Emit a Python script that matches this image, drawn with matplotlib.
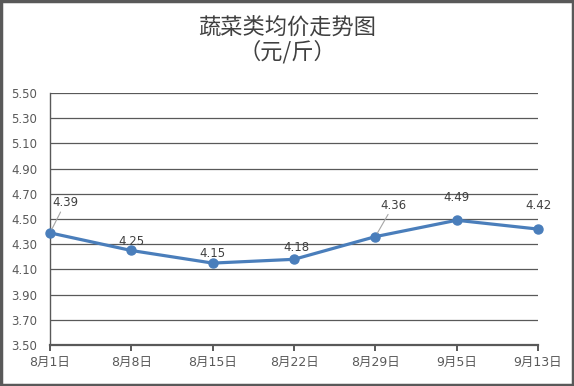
import matplotlib.pyplot as plt
from matplotlib.patches import Rectangle

plt.rcParams['font.family'] = ['DejaVu Sans', 'Noto Sans CJK SC']

# Data
dates = ['8月1日', '8月8日', '8月15日', '8月22日', '8月29日', '9月5日', '9月13日']
prices = [4.39, 4.25, 4.15, 4.18, 4.36, 4.49, 4.42]
yticks = [3.50, 3.70, 3.90, 4.10, 4.30, 4.50, 4.70, 4.90, 5.10, 5.30, 5.50]

# label offsets in points (dx, dy) and whether a leader line is drawn
label_offsets = [(11, 17), (0, 2), (0, 2), (2, 4), (13, 18), (0, 12), (0, 12)]
leader = [True, False, False, False, True, False, False]

line_color = '#4a7ebb'
text_color = '#595959'
grid_color = '#595959'

fig = plt.figure(figsize=(5.74, 3.86), dpi=100)
ax = fig.add_axes([0.0871, 0.1062, 0.8502, 0.6529])

x = list(range(len(dates)))
ax.plot(x, prices, color=line_color, linewidth=2.3, marker='o', markersize=6.5, zorder=3)

for i, (xi, yi) in enumerate(zip(x, prices)):
    dx, dy = label_offsets[i]
    ap = dict(arrowstyle='-', color='#a6a6a6', lw=0.8, shrinkA=0, shrinkB=3) if leader[i] else None
    ax.annotate(f'{yi:.2f}', xy=(xi, yi), xytext=(dx, dy), textcoords='offset points',
                ha='center', va='bottom', fontsize=8.5, color='#404040', arrowprops=ap)

ax.set_xlim(0, len(dates) - 1)
ax.set_ylim(3.5, 5.5)
ax.set_yticks(yticks)
ax.set_yticklabels([f'{v:.2f}' for v in yticks])
ax.set_xticks(x)
ax.set_xticklabels(dates)

ax.grid(axis='y', color=grid_color, linewidth=0.9)
ax.set_axisbelow(True)
for side in ['top', 'right']:
    ax.spines[side].set_visible(False)
ax.spines['left'].set_color(grid_color)
ax.spines['left'].set_linewidth(1.0)
ax.spines['bottom'].set_color(grid_color)
ax.spines['bottom'].set_linewidth(1.6)

ax.tick_params(axis='y', length=0, pad=9, labelsize=8.5, labelcolor=text_color)
ax.tick_params(axis='x', direction='out', length=4, width=1.4, color=grid_color,
               pad=4, labelsize=9, labelcolor=text_color)
for ln in ax.get_lines():
    ln.set_clip_on(False)

fig.text(0.5, 0.93, '蔬菜类均价走势图', ha='center', va='center', fontsize=16,
         color='#404040', family=['Noto Sans CJK SC', 'DejaVu Sans'])
fig.text(0.5, 0.865, '（元/斤）', ha='center', va='center', fontsize=16,
         color='#404040', family=['Noto Sans CJK SC', 'DejaVu Sans'])

# outer border
fig.patches.append(Rectangle((0.002, 0.003), 0.996, 0.994, transform=fig.transFigure,
                             fill=False, edgecolor='#595959', linewidth=2.5))

fig.savefig('out.png', dpi=100)
